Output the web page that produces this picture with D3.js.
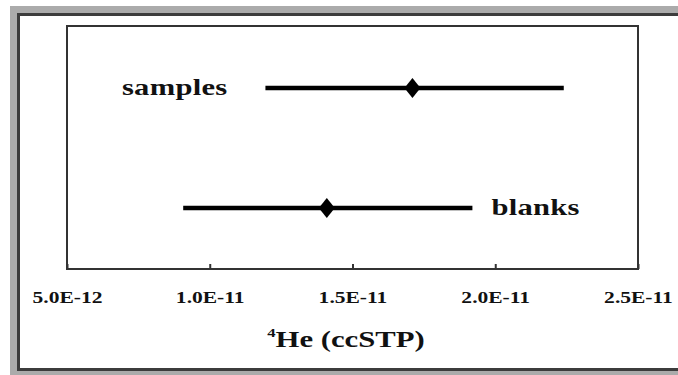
<!DOCTYPE html>
<html>
<head>
<meta charset="utf-8">
<script src="https://cdn.jsdelivr.net/npm/d3@7"></script>
<style>
  html, body { margin: 0; padding: 0; background: #fff; }
  svg { display: block; }
  svg text { font-family: 'Liberation Serif', 'Times New Roman', serif; font-weight: bold; fill: #111; }
</style>
</head>
<body>
<svg id="chart" width="678" height="375"></svg>
<script>
// Measured groups and their 4He ranges (ccSTP)
const groups = ["samples", "blanks"];
const lowValues = [1.195e-11, 9.07e-12];
const meanValues = [1.71e-11, 1.41e-11];
const highValues = [2.24e-11, 1.92e-11];
const tickValues = [5e-12, 1e-11, 1.5e-11, 2e-11, 2.5e-11];

const svg = d3.select("#chart");
const W = 678, H = 375;
const SERIF = "'Liberation Serif', 'Times New Roman', serif";
const STRETCH = 1.28; // wide lettering used throughout the figure

// Outer panel: grey surround with a dark border on left, top and bottom
svg.append("rect").attr("x", 10).attr("y", 6).attr("width", W - 10).attr("height", H - 6).attr("fill", "#ababab");
svg.append("rect").attr("x", 17).attr("y", 13).attr("width", W - 17).attr("height", 358).attr("fill", "#3c3c3c");
svg.append("rect").attr("x", 20).attr("y", 16).attr("width", W - 20).attr("height", 352).attr("fill", "#fff");

const plot = { left: 67, right: 638, top: 26, bottom: 269 };

const x = d3.scaleLinear().domain([5e-12, 2.5e-11]).range([plot.left, plot.right]);
const y = d3.scalePoint().domain(groups).range([88, 208]);

// Axis with inward ticks and scientific labels
const fmt = v => d3.format(".1e")(v).replace("e", "E");
const axis = d3.axisBottom(x).tickValues(tickValues).tickFormat(fmt)
  .tickSizeInner(-5).tickSizeOuter(0).tickPadding(22);
const gAxis = svg.append("g").attr("transform", `translate(0,${plot.bottom})`).call(axis)
  .attr("font-family", SERIF);
gAxis.select(".domain").remove();
gAxis.selectAll(".tick line").attr("stroke", "#333").attr("stroke-width", 2);
gAxis.selectAll(".tick text")
  .attr("font-weight", "bold").attr("font-size", 17.5).attr("fill", "#111")
  .attr("transform", `scale(${STRETCH - 0.05},1)`);

// Plot frame
svg.append("rect")
  .attr("x", plot.left).attr("y", plot.top)
  .attr("width", plot.right - plot.left).attr("height", plot.bottom - plot.top)
  .attr("fill", "none").attr("stroke", "#333").attr("stroke-width", 2);

// Range bars with mean markers
const rows = groups.map((g, i) => ({ g, lo: lowValues[i], mean: meanValues[i], hi: highValues[i] }));
const row = svg.append("g").selectAll("g").data(rows).join("g");

row.append("line")
  .attr("x1", d => x(d.lo)).attr("x2", d => x(d.hi))
  .attr("y1", d => y(d.g)).attr("y2", d => y(d.g))
  .attr("stroke", "#000").attr("stroke-width", 4.5);

row.append("path")
  .attr("d", d => {
    const cx = x(d.mean), cy = y(d.g), w = 8, h = 10;
    return `M${cx},${cy - h}L${cx + w},${cy}L${cx},${cy + h}L${cx - w},${cy}Z`;
  })
  .attr("fill", "#000");

// Group labels: first to the left of its bar, second to the right
row.append("text")
  .attr("transform", (d, i) => {
    const tx = i === 0 ? x(d.lo) - 38 : x(d.hi) + 19;
    return `translate(${tx},${y(d.g) + 7}) scale(${STRETCH + 0.05},1)`;
  })
  .attr("text-anchor", (d, i) => i === 0 ? "end" : "start")
  .attr("font-size", 23)
  .attr("letter-spacing", 0.2)
  .text(d => d.g);

// Axis title
const title = svg.append("text")
  .attr("transform", `translate(346,347) scale(${STRETCH},1)`)
  .attr("text-anchor", "middle").attr("font-size", 24);
title.append("tspan").attr("font-size", 13).attr("dy", -10).text("4");
title.append("tspan").attr("dy", 10).text("He (ccSTP)");
</script>
</body>
</html>
